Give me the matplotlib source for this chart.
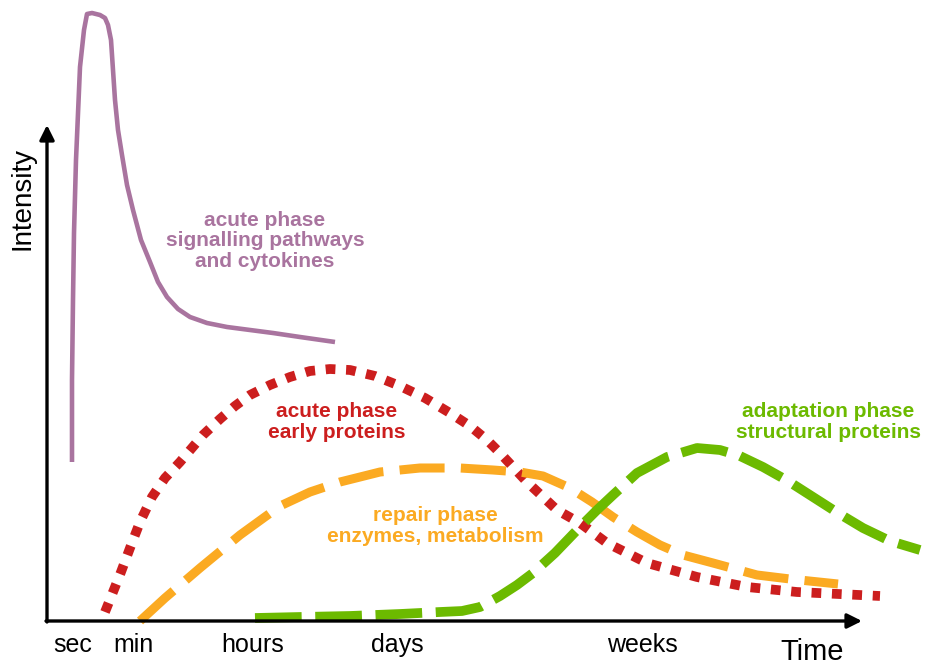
import numpy as np
import matplotlib
matplotlib.use("Agg")
import matplotlib.pyplot as plt

plt.rcParams['font.family'] = ['Liberation Sans', 'DejaVu Sans']

# time axis in arbitrary units, intensity in arbitrary units
signalT = [25, 25, 26, 27, 29, 33, 37, 40, 45, 53, 58, 61, 64, 66, 68, 71, 75, 80, 86, 94,
           103, 111, 120, 131, 143, 160, 180, 203, 226, 253, 288]
signalI = [159, 241, 321, 388, 461, 554, 591, 607, 608, 606, 603, 596, 581, 551, 521, 491, 466,
           436, 411, 381, 359, 339, 324, 312, 304, 298, 294, 291, 288, 284, 279]

earlyT = [58, 66, 74, 83, 93, 105, 118, 133, 156, 173, 188, 203, 223, 243, 263, 283, 303, 328,
          353, 378, 403, 423, 440, 453, 480, 510, 533, 560, 600, 650, 700, 750, 833]
earlyI = [9, 29, 49, 73, 99, 124, 143, 159, 186, 202, 215, 226, 236, 244, 250, 252, 251, 245,
          235, 223, 208, 195, 181, 168, 139, 111, 98, 78, 58, 44, 34, 29, 25]

repairT = [93, 118, 153, 193, 233, 263, 293, 333, 373, 413, 446, 473, 496, 523, 545, 566, 590,
           613, 636, 666, 710, 743, 791]
repairI = [0, 23, 53, 86, 115, 129, 139, 149, 153, 153, 151, 149, 145, 133, 119, 104, 89, 76,
           66, 58, 46, 42, 37]

adaptT = [208, 253, 303, 353, 393, 415, 433, 453, 470, 486, 508, 533, 550, 566, 590, 620, 650,
          673, 693, 716, 741, 766, 791, 816, 843, 873]
adaptI = [3, 4, 5, 7, 9, 10, 14, 25, 36, 48, 68, 94, 111, 126, 148, 164, 173, 171, 165, 154,
          140, 124, 108, 93, 80, 71]

tickPos = [26, 86, 206, 350, 595]
tickLabels = ["sec", "min", "hours", "days", "weeks"]

purple = "#a9749f"
red = "#cc1e1e"
orange = "#fbaa22"
green = "#6cba00"

fig = plt.figure(figsize=(9.36, 6.68), dpi=100)
ax = fig.add_axes([0, 0, 1, 1])
ax.set_xlim(-47, 889)
ax.set_ylim(-47, 621)
ax.axis("off")

ax.plot(signalT, signalI, color=purple, lw=3.3, solid_capstyle="butt", solid_joinstyle="round")
ax.plot(earlyT, earlyI, color=red, lw=7, linestyle=(0, (1, 1.1)), dash_capstyle="butt")
ax.plot(repairT, repairI, color=orange, lw=6.5, linestyle=(0, (5, 1.8)), dash_capstyle="butt")
ax.plot(adaptT, adaptI, color=green, lw=7, linestyle=(0, (4.8, 1.4)), dash_capstyle="butt")

# axes with arrows
arrow = dict(arrowstyle="-|>", color="black", lw=2.4, mutation_scale=22, shrinkA=0, shrinkB=0)
ax.annotate("", xy=(815, 0), xytext=(-1, 0), arrowprops=arrow)
ax.annotate("", xy=(0, 496), xytext=(0, -1), arrowprops=arrow)

for p, lab in zip(tickPos, tickLabels):
    ax.text(p, -24, lab, ha="center", va="center", fontsize=18)
ax.text(765, -31, "Time", ha="center", va="center", fontsize=21)
ax.text(-25, 422, "Intensity", ha="center", va="center", fontsize=20, rotation=90)

kw = dict(ha="center", va="center", fontsize=15, fontweight="bold", linespacing=1.1)
ax.text(218, 380, "acute phase\nsignalling pathways\nand cytokines", color=purple, **kw)
ax.text(290, 199, "acute phase\nearly proteins", color=red, **kw)
ax.text(388, 95, "repair phase\nenzymes, metabolism", color=orange, **kw)
ax.text(781, 199, "adaptation phase\nstructural proteins", color=green, **kw)

fig.savefig("out.png", dpi=100)
